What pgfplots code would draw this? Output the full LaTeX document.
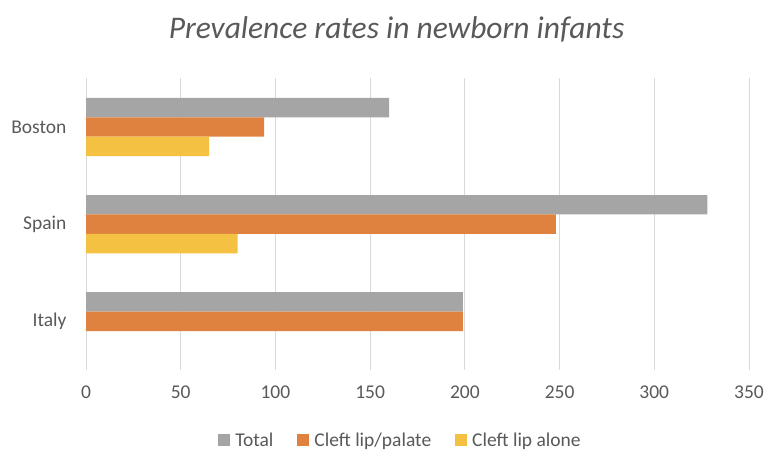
\documentclass[border=0pt]{standalone}
\usepackage{fontspec}
\setmainfont{Carlito}
\usepackage{pgfplots}
\pgfplotsset{compat=1.18}

\definecolor{cTotal}{HTML}{A5A5A5}
\definecolor{cPalate}{HTML}{E0823F}
\definecolor{cAlone}{HTML}{F5C142}
\definecolor{txt}{HTML}{595959}
\definecolor{gridc}{HTML}{D9D9D9}

\begin{document}
\begin{tikzpicture}
\path (0,0) rectangle (775pt,465pt);
\begin{axis}[
    at={(86pt,95pt)}, anchor=south west,
    scale only axis,
    width=663pt, height=291.6pt,
    xbar,
    bar width=0.2,
    xmin=0, xmax=350,
    ymin=-0.5, ymax=2.5,
    xtick={0,50,...,350},
    ytick={0,1,2},
    yticklabels={Italy,Spain,Boston},
    axis line style={draw=none},
    major tick length=0pt,
    xmajorgrids,
    grid style={gridc, line width=1pt},
    tick label style={font=\fontsize{19.5}{23}\selectfont, text=txt},
    /pgf/number format/assume math mode=true,
    xticklabel style={yshift=-12pt},
    yticklabel style={xshift=-16pt},
    title={Prevalence rates in newborn infants},
    title style={font=\fontsize{31.5}{36}\selectfont\itshape, text=txt,
        at={(rel axis cs:0.5,1)}, anchor=center, yshift=43pt, xshift=-21pt},
    legend style={at={(rel axis cs:0.5,-0.24)}, anchor=center, draw=none,
        xshift=-17pt,
        font=\fontsize{19.5}{23}\selectfont, text=txt,
        legend columns=3,
        /tikz/every odd column/.append style={column sep=3pt},
        /tikz/every even column/.append style={column sep=22pt}},
    legend image code/.code={\fill[#1] (0pt,-6pt) rectangle (12pt,6pt);},
]
\addplot[fill=cTotal, draw=none, bar shift=0.2] coordinates {(160,2) (328,1) (199,0)};
\addplot[fill=cPalate, draw=none, bar shift=0] coordinates {(94,2) (248,1) (199,0)};
\addplot[fill=cAlone, draw=none, bar shift=-0.2] coordinates {(65,2) (80,1)};
\legend{Total, Cleft lip/palate, Cleft lip alone}
\end{axis}
\end{tikzpicture}
\end{document}
